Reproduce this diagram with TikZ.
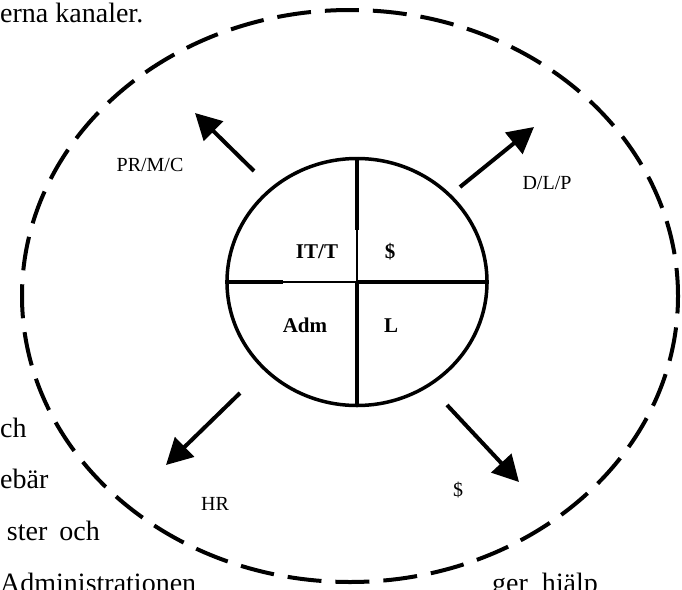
\documentclass[tikz,border=0pt]{standalone}
\usepackage{fontspec}
\setmainfont{Liberation Serif}
\usetikzlibrary{shapes.geometric, arrows.meta}

\tikzset{
  prose/.style={font=\fontsize{28}{34}\selectfont, inner sep=0pt, anchor=base west},
  tag/.style={font=\fontsize{20}{24}\selectfont, inner sep=0pt, anchor=base},
  quad/.style={font=\bfseries\fontsize{21}{25}\selectfont, inner sep=0pt, anchor=base},
  boundary/.style={draw, ellipse, line width=4pt, dash pattern=on 34pt off 14pt, dash phase=6pt, inner sep=0pt},
  flow/.style={-{Triangle[length=26pt, width=27pt]}, line width=4pt},
  divider/.style={line width=3.5pt},
  seam/.style={line width=1.8pt},
}

\begin{document}
\begin{tikzpicture}[x=1pt, y=-1pt]
  \useasboundingbox (0,0) rectangle (682,589);
  \clip (0,0) rectangle (682,589);

  % Surrounding text
  \node (txt1) [prose] at (0,22) {erna kanaler.};
  \node (txt2) [prose] at (0,437) {ch};
  \node (txt3) [prose] at (0,488) {ebär};
  \node (txt4) [prose, anchor=base east] at (100,540) {ster\hspace{12pt}och};
  \node (txt5) [prose] at (0,592) {Administrationen};
  \node (txt6) [prose] at (492,592) {ger\hspace{14pt}hjälp};

  % Outer field and core
  \node (field) [boundary, minimum width=656pt, minimum height=572pt] at (350,296) {};
  \node (core) [draw, ellipse, divider, minimum width=260pt, minimum height=247pt, inner sep=0pt] at (357,282) {};

  % Quadrant dividers
  \coordinate (nbreak) at (357,230);
  \coordinate (wbreak) at (283,282);
  \draw[divider] (core.north) -- (nbreak);
  \draw[seam] (nbreak) -- (core.center);
  \draw[divider] (core.west) -- (wbreak);
  \draw[seam] (wbreak) -- (core.center);
  \draw[divider] (core.center) -- (core.east);
  \draw[divider] (core.center) -- (core.south);

  % Quadrant labels
  \node (itt) [quad] at (317,258) {IT/T};
  \node (cash) [quad] at (390,258) {\$};
  \node (adm) [quad] at (305,332) {Adm};
  \node (law) [quad] at (391,332) {L};

  % Arrow ends
  \coordinate (ulA) at (254,171);  \coordinate (ulB) at (195,113);
  \coordinate (urA) at (460,187);  \coordinate (urB) at (534,127);
  \coordinate (llA) at (240,393);  \coordinate (llB) at (166,465);
  \coordinate (lrA) at (447,405);  \coordinate (lrB) at (519,482);

  % Arrows
  \draw[flow] (ulA) -- (ulB);
  \draw[flow] (urA) -- (urB);
  \draw[flow] (llA) -- (llB);
  \draw[flow] (lrA) -- (lrB);

  % Outer labels
  \node (prmc) [tag] at (150,171) {PR/M/C};
  \node (dlp) [tag] at (547,189) {D/L/P};
  \node (hr) [tag] at (215,510) {HR};
  \node (money) [tag] at (458,496) {\$};
\end{tikzpicture}
\end{document}
